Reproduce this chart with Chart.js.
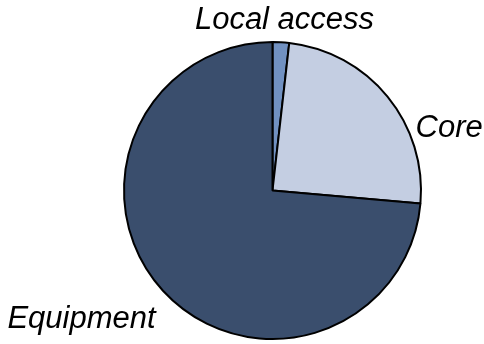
<!DOCTYPE html>
<html>
<head>
<meta charset="utf-8">
<script src="https://cdn.jsdelivr.net/npm/chart.js@4"></script>
<style>
  html, body { margin: 0; padding: 0; background: #fff; }
  #wrap { width: 484px; height: 344px; }
</style>
</head>
<body>
<div id="wrap"><canvas id="pie"></canvas></div>
<script>
const categories = ['Local access', 'Core', 'Equipment'];
const shares = [1.8, 24.6, 73.6];
const sliceColors = ['#7191c1', '#c4cee2', '#3a4e6d'];

// label placement relative to pie centre (dx, dy of baseline, alignment)
const labelSpots = [
  { dx: 12, dy: -162, align: 'center' },
  { dx: 143, dy: -54, align: 'left' },
  { dx: -191, dy: 137, align: 'center' }
];

const sliceLabels = {
  id: 'sliceLabels',
  afterDraw(chart) {
    const arc = chart.getDatasetMeta(0).data[0];
    if (!arc) return;
    const ctx = chart.ctx;
    ctx.save();
    ctx.font = 'italic 31px "Liberation Sans", Arial, sans-serif';
    ctx.fillStyle = '#000';
    ctx.textBaseline = 'alphabetic';
    categories.forEach((name, i) => {
      const s = labelSpots[i];
      ctx.textAlign = s.align;
      ctx.fillText(name, arc.x + s.dx, arc.y + s.dy);
    });
    ctx.restore();
  }
};

new Chart(document.getElementById('pie'), {
  type: 'pie',
  data: {
    labels: categories,
    datasets: [{
      data: shares,
      backgroundColor: sliceColors,
      borderColor: '#000',
      borderWidth: 2
    }]
  },
  options: {
    responsive: true,
    maintainAspectRatio: false,
    animation: false,
    layout: { padding: { left: 100, right: 39, top: 41, bottom: 4 } },
    plugins: {
      legend: { display: false },
      tooltip: { enabled: false }
    }
  },
  plugins: [sliceLabels]
});
</script>
</body>
</html>
